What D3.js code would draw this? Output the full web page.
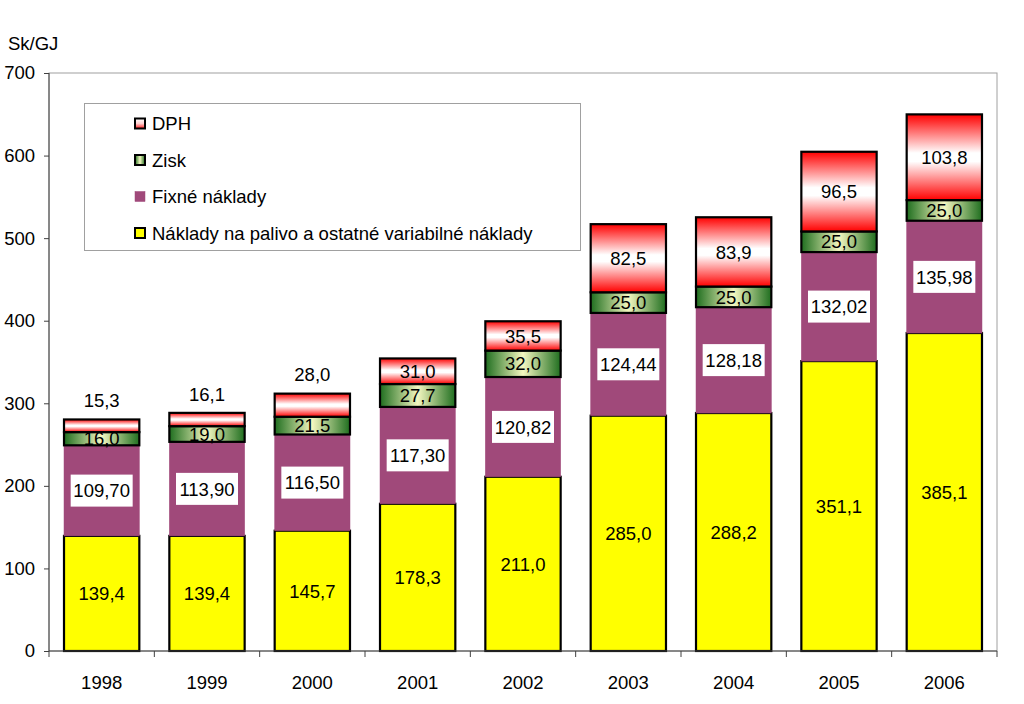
<!DOCTYPE html>
<html><head><meta charset="utf-8">
<script src="https://cdn.jsdelivr.net/npm/d3@7"></script>
<style>body{margin:0;background:#fff}svg{display:block;font-family:"Liberation Sans",Arial,sans-serif}</style>
</head><body><svg id="c" width="1024" height="704"></svg>
<script>
const years = ["1998","1999","2000","2001","2002","2003","2004","2005","2006"];
const palivo = [139.4,139.4,145.7,178.3,211.0,285.0,288.2,351.1,385.1];
const fixne = [109.70,113.90,116.50,117.30,120.82,124.44,128.18,132.02,135.98];
const zisk = [16.0,19.0,21.5,27.7,32.0,25.0,25.0,25.0,25.0];
const dph = [15.3,16.1,28.0,31.0,35.5,82.5,83.9,96.5,103.8];
const yTicks = [0,100,200,300,400,500,600,700];
const seriesNames = ["DPH","Zisk","Fixné náklady","Náklady na palivo a ostatné variabilné náklady"];
const yUnit = "Sk/GJ";

const FS = 18.5;
const svg = d3.select("#c");
const L=49,R=997,T=73,B=651;
const x = d3.scaleBand().domain(years).range([L,R]).paddingInner(0.285).paddingOuter(0.1425);
const y = d3.scaleLinear().domain([0,700]).range([B,T]);

const defs = svg.append("defs");
const gR = defs.append("linearGradient").attr("id","gR").attr("x1",0).attr("y1",0).attr("x2",0).attr("y2",1);
[[0,"#ff0000"],[0.45,"#ffffff"],[0.55,"#ffffff"],[1,"#ff0000"]].forEach(s=>gR.append("stop").attr("offset",s[0]).attr("stop-color",s[1]));
const gG = defs.append("linearGradient").attr("id","gG").attr("x1",0).attr("y1",0).attr("x2",1).attr("y2",0);
[[0,"#1f6e1f"],[0.5,"#f4f7c0"],[1,"#1f6e1f"]].forEach(s=>gG.append("stop").attr("offset",s[0]).attr("stop-color",s[1]));
const gRL = defs.append("linearGradient").attr("id","gRL").attr("x1",0).attr("y1",0).attr("x2",0).attr("y2",1);
[[0,"#ffffff"],[0.5,"#ffd0d0"],[1,"#ff2020"]].forEach(s=>gRL.append("stop").attr("offset",s[0]).attr("stop-color",s[1]));

svg.append("rect").attr("x",L).attr("y",T).attr("width",R-L).attr("height",B-T)
  .attr("fill","none").attr("stroke","#a0a0a0").attr("stroke-width",1);

const fills = ["url(#gR)","url(#gG)","#a0497a","#ffff00"];
const strokes = ["#000","#000","#a0497a","#000"];
const data = [dph,zisk,fixne,palivo];
const order = [3,2,1,0];

const g = svg.append("g");
years.forEach((yr,i)=>{
  let base=0;
  const segs=[];
  order.forEach(k=>{
    const v=data[k][i];
    segs.push({k,v,y0:base,y1:base+v});
    base+=v;
  });
  segs.forEach(s=>{
    g.append("rect").attr("x",x(yr)).attr("width",x.bandwidth())
      .attr("y",y(s.y1)).attr("height",y(s.y0)-y(s.y1))
      .attr("fill",fills[s.k]).attr("stroke",strokes[s.k]).attr("stroke-width",s.k===2?0.5:2.2);
  });
  segs.forEach(s=>{
    const cx=x(yr)+x.bandwidth()/2;
    let cy=(y(s.y0)+y(s.y1))/2;
    const txt = s.k===2? d3.format(".2f")(s.v).replace(".",",") : d3.format(".1f")(s.v).replace(".",",");
    if(s.k===0 && s.v<30) cy=y(s.y1)-19;
    if(s.k===2){
      const w=62;
      g.append("rect").attr("x",cx-w/2).attr("y",cy-16).attr("width",w).attr("height",32).attr("fill","#fff");
    }
    g.append("text").attr("x",cx).attr("y",cy).attr("dy","0.36em").attr("text-anchor","middle")
      .attr("font-size",FS).attr("fill","#000").text(txt);
  });
});

const ya = svg.append("g").attr("transform",`translate(${L},0)`)
  .call(d3.axisLeft(y).tickValues(yTicks).tickSize(5).tickPadding(9).tickFormat(d3.format("d")));
ya.select(".domain").attr("stroke","#404040").attr("d",`M0,${T}V${B}`);
ya.selectAll(".tick line").attr("stroke","#404040");
ya.selectAll("text").attr("font-size",FS).attr("font-family","Liberation Sans, Arial, sans-serif").attr("fill","#000");

const xa = svg.append("g").attr("transform",`translate(0,${B})`)
  .call(d3.axisBottom(x).tickSize(0).tickPadding(25));
xa.select(".domain").attr("stroke","#404040").attr("d",`M${L},0H${R}`);
xa.selectAll("text").attr("font-size",FS).attr("font-family","Liberation Sans, Arial, sans-serif").attr("fill","#000");
const bounds = d3.range(years.length+1).map(i=>L+i*(R-L)/years.length);
xa.selectAll(".bt").data(bounds).enter().append("line").attr("class","bt")
  .attr("x1",d=>d).attr("x2",d=>d).attr("y1",0).attr("y2",6).attr("stroke","#404040");

svg.append("text").attr("x",8).attr("y",50).attr("font-size",FS).text(yUnit);

const lg = svg.append("g");
lg.append("rect").attr("x",84.5).attr("y",103.5).attr("width",496).attr("height",147)
  .attr("fill","#fff").attr("stroke","#a0a0a0");
const lfills=["url(#gRL)","url(#gG)","#a0497a","#ffff00"];
seriesNames.forEach((n,i)=>{
  const cy=123.5+i*36.5;
  lg.append("rect").attr("x",135).attr("y",cy-5).attr("width",10).attr("height",10)
    .attr("fill",lfills[i]).attr("stroke",i===2?"#a0497a":"#000").attr("stroke-width",i===2?0.5:2);
  lg.append("text").attr("x",152).attr("y",cy).attr("dy","0.36em").attr("font-size",FS).text(n);
});
</script></body></html>
